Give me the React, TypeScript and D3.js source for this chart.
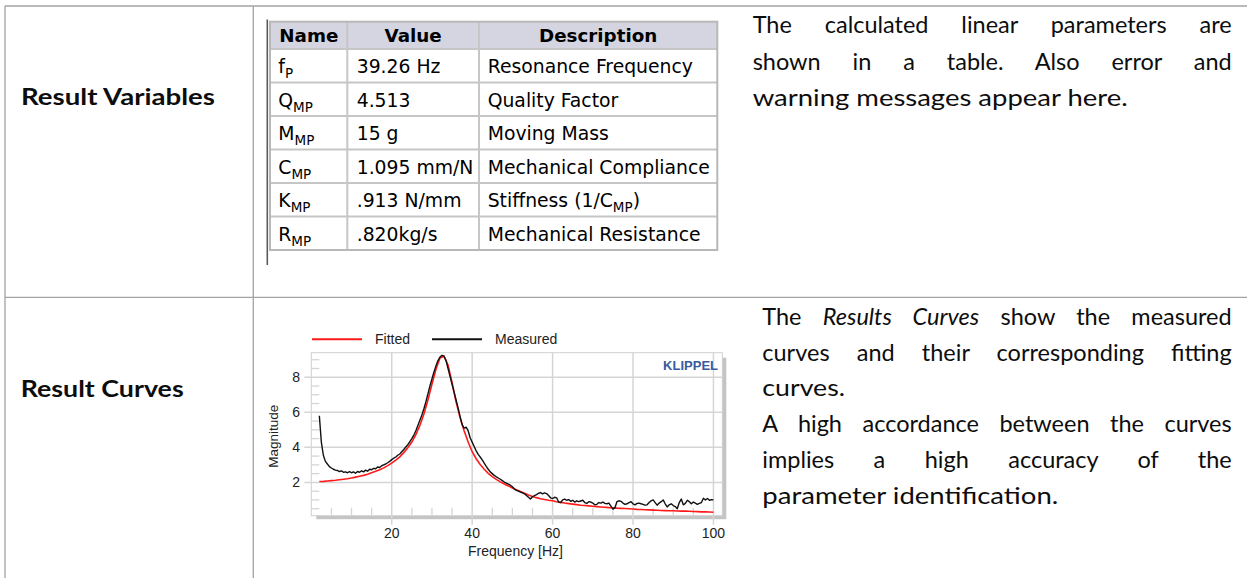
import * as d3 from "d3";
import { useEffect, useRef } from "react";

const W = 1247;
const H = 578;

// parameter table
const tableHeaders = ["Name", "Value", "Description"];
const paramNames = ["f_P", "Q_MP", "M_MP", "C_MP", "K_MP", "R_MP"];
const paramValues = ["39.26 Hz", "4.513", "15 g", "1.095 mm/N", ".913 N/mm", ".820kg/s"];
const paramDescriptions = [
  "Resonance Frequency",
  "Quality Factor",
  "Moving Mass",
  "Mechanical Compliance",
  "Stiffness (1/C_MP)",
  "Mechanical Resistance",
];

// paragraph lines, *...* = italic
const variablesText = [
  "The calculated linear parameters are",
  "shown in a table. Also error and",
  "warning messages appear here.",
];
const variablesJustify = [true, true, false];
const curvesText = [
  "The *Results Curves* show the measured",
  "curves and their corresponding fitting",
  "curves.",
  "A high accordance between the curves",
  "implies a high accuracy of the",
  "parameter identification.",
];
const curvesJustify = [true, true, false, true, true, false];

// chart data: measured sampled every 0.5 Hz from 2 Hz, fitted every 1 Hz from 2 Hz
const measuredStart = 2;
const measuredStep = 0.5;
const measuredMag = [
  5.8, 4.3, 3.55, 3.2, 3.05, 2.9, 2.82, 2.75, 2.7, 2.68,
  2.62, 2.66, 2.58, 2.6, 2.55, 2.62, 2.55, 2.6, 2.52, 2.62,
  2.58, 2.66, 2.6, 2.7, 2.64, 2.75, 2.72, 2.8, 2.78, 2.88,
  2.85, 2.95, 3.0, 3.05, 3.12, 3.2, 3.3, 3.38, 3.45, 3.55,
  3.62, 3.75, 3.88, 4.02, 4.15, 4.32, 4.5, 4.7, 4.95, 5.25,
  5.55, 5.85, 6.2, 6.6, 7.05, 7.5, 7.9, 8.3, 8.65, 8.95,
  9.15, 9.25, 9.2, 8.95, 8.5, 8.05, 7.6, 7.15, 6.7, 6.25,
  5.75, 5.3, 5.1, 5.15, 4.95, 4.55, 4.3, 4.05, 3.8, 3.6,
  3.45, 3.28, 3.1, 2.92, 2.75, 2.6, 2.5, 2.4, 2.32, 2.25,
  2.18, 2.1, 2.02, 1.96, 1.9, 1.84, 1.75, 1.62, 1.55, 1.5,
  1.45, 1.4, 1.35, 1.25, 1.15, 1.05, 1.18, 1.25, 1.3, 1.38,
  1.42, 1.35, 1.4, 1.36, 1.25, 1.12, 1.08, 1.15, 1.12, 0.88,
  0.85, 1.0, 1.05, 0.98, 1.02, 0.92, 0.98, 0.88, 0.95, 0.9,
  0.94, 0.98, 0.85, 0.8, 0.9, 0.88, 0.82, 0.72, 0.75, 0.85,
  0.82, 0.88, 0.8, 0.78, 0.82, 0.65, 0.48, 0.55, 0.9, 0.95,
  0.92, 0.82, 0.75, 0.78, 0.85, 0.9, 0.78, 0.72, 0.8, 0.82,
  0.78, 0.75, 0.7, 0.72, 0.85, 0.95, 1.0, 0.85, 0.7, 0.82,
  0.9, 1.0, 0.78, 0.6, 0.72, 0.78, 0.68, 0.62, 0.5, 0.85,
  1.05, 0.72, 0.8, 0.98, 0.9, 0.78, 0.88, 0.82, 0.75, 0.8,
  0.85, 1.1, 1.0, 1.08, 0.98, 1.02, 1.0,
];
const fittedStart = 2;
const fittedStep = 1;
const fittedMag = [
  2.05, 2.06, 2.08, 2.1, 2.12, 2.15, 2.18, 2.21, 2.25, 2.3,
  2.35, 2.4, 2.47, 2.55, 2.63, 2.72, 2.83, 2.96, 3.1, 3.27,
  3.46, 3.7, 3.98, 4.3, 4.72, 5.25, 5.9, 6.7, 7.6, 8.45,
  9.1, 9.2, 8.7, 7.7, 6.6, 5.7, 4.95, 4.3, 3.75, 3.35,
  3.02, 2.75, 2.52, 2.33, 2.17, 2.03, 1.91, 1.8, 1.68, 1.58,
  1.48, 1.38, 1.28, 1.2, 1.13, 1.07, 1.02, 0.98, 0.95, 0.9,
  0.86, 0.82, 0.79, 0.76, 0.73, 0.7, 0.68, 0.66, 0.64, 0.62,
  0.6, 0.58, 0.56, 0.55, 0.53, 0.52, 0.51, 0.5, 0.48, 0.46,
  0.45, 0.44, 0.43, 0.42, 0.41, 0.4, 0.39, 0.38, 0.38, 0.37,
  0.36, 0.36, 0.35, 0.34, 0.33, 0.32, 0.32, 0.31, 0.3,
];
const xTicks = [20, 40, 60, 80, 100];
const yTicks = [2, 4, 6, 8];

const DOC_FONT = "Lato, 'Noto Sans', sans-serif";
const TABLE_FONT = "'DejaVu Sans', Verdana, sans-serif";
const CHART_FONT = "'Liberation Sans', Arial, sans-serif";

// "C_MP" -> C with subscript MP
const withSub = (s: string, subSize: number) =>
  s.split(/_([A-Z]+)/).map((p, i) =>
    i % 2 === 1 ? (
      <tspan key={i} fontSize={subSize} dy={5}>
        {p}
      </tspan>
    ) : (
      <tspan key={i} dy={i > 0 ? -5 : 0}>
        {p}
      </tspan>
    )
  );

const withItalic = (s: string) =>
  s.split("*").map((p, i) => (
    <tspan key={i} fontStyle={i % 2 === 1 ? "italic" : "normal"}>
      {p}
    </tspan>
  ));

const ParamTable = () => {
  const left = 270;
  const right = 717.3;
  const cols = [270, 347.3, 479, 717.3];
  const top = 21.7;
  const headerBottom = 49;
  const rowH = 33.5;
  const row = d3.scaleLinear().domain([0, 1]).range([headerBottom, headerBottom + rowH]);
  const bottom = row(paramNames.length);
  const textX = [278.3, 356.7, 487.7];

  return (
    <g fontFamily={TABLE_FONT} fontSize={18.8} fill="#000">
      <line x1={267.3} x2={267.3} y1={19.5} y2={265} stroke="#5a5a5a" strokeWidth={1.6} />
      <rect x={left} y={top} width={right - left} height={headerBottom - top} fill="#d5d5e1" />
      {d3.range(paramNames.length + 1).map((i) => (
        <line key={i} x1={left} x2={right} y1={row(i)} y2={row(i)} stroke="#c6c6c6" strokeWidth={2} />
      ))}
      {cols.slice(1, 3).map((c) => (
        <line key={c} x1={c} x2={c} y1={top} y2={bottom} stroke="#c6c6c6" strokeWidth={2} />
      ))}
      <rect x={left} y={top} width={right - left} height={bottom - top} fill="none" stroke="#b8b8b8" strokeWidth={2} />
      {tableHeaders.map((h, i) => (
        <text
          key={h}
          x={i === 0 ? textX[0] + 1 : (cols[i] + cols[i + 1]) / 2}
          y={41.5}
          textAnchor={i === 0 ? "start" : "middle"}
          fontWeight="bold"
          fontSize={18.3}
        >
          {h}
        </text>
      ))}
      {paramNames.map((n, i) => {
        const by = row(i) + 24.3;
        return (
          <g key={n}>
            <text x={textX[0]} y={by}>{withSub(n, 13.5)}</text>
            <text x={textX[1]} y={by}>{paramValues[i]}</text>
            <text x={textX[2]} y={by}>{withSub(paramDescriptions[i], 13.5)}</text>
          </g>
        );
      })}
    </g>
  );
};

const ResultChart = () => {
  const ref = useRef<SVGGElement>(null);

  useEffect(() => {
    if (!ref.current) return;
    const g = d3.select(ref.current);
    g.selectAll("*").remove();

    const left = 311.3;
    const right = 722.3;
    const top = 352.7;
    const bottom = 515.7;
    const x = d3.scaleLinear().domain([0, 102.2]).range([left, right]);
    const y = d3.scaleLinear().domain([0.1, 9.4]).range([bottom, top]);
    const grid = "#d5d5d5";

    // drop shadow + plot area
    g.append("rect")
      .attr("x", left + 5)
      .attr("y", top + 5)
      .attr("width", right - left - 1)
      .attr("height", bottom - top - 1.5)
      .attr("fill", "#c4c4c4");
    g.append("rect")
      .attr("x", left)
      .attr("y", top)
      .attr("width", right - left)
      .attr("height", bottom - top)
      .attr("fill", "#fff")
      .attr("stroke", "#d0d0d0")
      .attr("stroke-width", 1);

    // minor ticks
    const xMinor = d3.range(5, 101, 5).filter((v) => !xTicks.includes(v));
    g.selectAll(".xminor")
      .data(xMinor)
      .enter()
      .append("line")
      .attr("x1", (d) => x(d))
      .attr("x2", (d) => x(d))
      .attr("y1", bottom - 8)
      .attr("y2", bottom)
      .attr("stroke", grid)
      .attr("stroke-width", 1.3);
    const yMinor = d3.range(0.5, 9.01, 0.5).filter((v) => !yTicks.includes(v));
    g.selectAll(".yminor")
      .data(yMinor)
      .enter()
      .append("line")
      .attr("x1", left)
      .attr("x2", left + 8)
      .attr("y1", (d) => y(d))
      .attr("y2", (d) => y(d))
      .attr("stroke", grid)
      .attr("stroke-width", 1.3);

    // major grid
    g.selectAll(".xgrid")
      .data(xTicks)
      .enter()
      .append("line")
      .attr("x1", (d) => x(d))
      .attr("x2", (d) => x(d))
      .attr("y1", top)
      .attr("y2", bottom + 9)
      .attr("stroke", grid)
      .attr("stroke-width", 1.5);
    g.selectAll(".ygrid")
      .data(yTicks)
      .enter()
      .append("line")
      .attr("x1", left - 7)
      .attr("x2", right)
      .attr("y1", (d) => y(d))
      .attr("y2", (d) => y(d))
      .attr("stroke", grid)
      .attr("stroke-width", 1.5);

    // curves
    const fitLine = d3
      .line<number>()
      .x((_, i) => x(fittedStart + i * fittedStep))
      .y((d) => y(d));
    const measLine = d3
      .line<number>()
      .x((_, i) => x(measuredStart + i * measuredStep))
      .y((d) => y(d));
    g.append("path")
      .attr("d", fitLine(fittedMag))
      .attr("fill", "none")
      .attr("stroke", "#ff1a1a")
      .attr("stroke-width", 1.6);
    g.append("path")
      .attr("d", measLine(measuredMag))
      .attr("fill", "none")
      .attr("stroke", "#111")
      .attr("stroke-width", 1.4)
      .attr("stroke-linejoin", "round");

    // tick labels
    const lbl = g.append("g").attr("font-family", CHART_FONT).attr("font-size", 14).attr("fill", "#222");
    lbl.selectAll(".xl")
      .data(xTicks)
      .enter()
      .append("text")
      .attr("x", (d) => x(d))
      .attr("y", 538)
      .attr("text-anchor", "middle")
      .text((d) => d);
    lbl.selectAll(".yl")
      .data(yTicks)
      .enter()
      .append("text")
      .attr("x", 300)
      .attr("y", (d) => y(d))
      .attr("dy", "0.36em")
      .attr("text-anchor", "end")
      .text((d) => d);
    lbl.append("text")
      .attr("x", 515.5)
      .attr("y", 556)
      .attr("text-anchor", "middle")
      .text("Frequency [Hz]");
    lbl.append("text")
      .attr("transform", "translate(278,436.3) rotate(-90)")
      .attr("text-anchor", "middle")
      .attr("font-size", 13.5)
      .text("Magnitude");

    // legend
    const legend = [
      { label: "Fitted", color: "#ff1a1a", x0: 312 },
      { label: "Measured", color: "#111", x0: 432 },
    ];
    const lg = g.selectAll(".lg").data(legend).enter().append("g");
    lg.append("line")
      .attr("x1", (d) => d.x0)
      .attr("x2", (d) => d.x0 + 50)
      .attr("y1", 339.3)
      .attr("y2", 339.3)
      .attr("stroke", (d) => d.color)
      .attr("stroke-width", 2);
    lg.append("text")
      .attr("x", (d) => d.x0 + 63)
      .attr("y", 344)
      .attr("font-family", CHART_FONT)
      .attr("font-size", 14)
      .attr("fill", "#222")
      .text((d) => d.label);

    g.append("text")
      .attr("x", 718)
      .attr("y", 369.5)
      .attr("text-anchor", "end")
      .attr("font-family", CHART_FONT)
      .attr("font-weight", "bold")
      .attr("font-size", 13)
      .attr("fill", "#3b5a9d")
      .text("KLIPPEL");
  }, []);

  return <g ref={ref} />;
};

const Paragraph = ({
  lines,
  justify,
  x,
  y0,
  lineH,
  width,
  widths,
}: {
  lines: string[];
  justify: boolean[];
  x: number;
  y0: number;
  lineH: number;
  width: number;
  widths: Record<number, number>;
}) => (
  <g>
    {lines.map((l, i) => (
      <text
        key={i}
        className={justify[i] ? "justify" : "plain"}
        data-w={justify[i] ? width : widths[i]}
        x={x}
        y={y0 + i * lineH}
      >
        {withItalic(l)}
      </text>
    ))}
  </g>
);

export default function App() {
  const ref = useRef<SVGSVGElement>(null);

  useEffect(() => {
    if (!ref.current) return;
    const svg = d3.select(ref.current);
    svg.selectAll<SVGTextElement, unknown>("text.justify").each(function () {
      const target = +(this.getAttribute("data-w") || 0);
      const natural = this.getComputedTextLength();
      const spaces = ((this.textContent || "").match(/ /g) || []).length;
      if (spaces) d3.select(this).style("word-spacing", `${(target - natural) / spaces}px`);
    });
    svg.selectAll<SVGTextElement, unknown>("text.plain, text.fit").each(function () {
      const target = +(this.getAttribute("data-w") || 0);
      if (target) {
        d3.select(this).attr("textLength", target).attr("lengthAdjust", "spacingAndGlyphs");
      }
    });
  }, []);

  const border = "#a3a3a3";

  return (
    <svg
      ref={ref}
      width={W}
      height={H}
      style={{ position: "absolute", left: 0, top: 0, background: "#fff" }}
    >
      {/* outer document table */}
      <line x1={5} x2={W} y1={6} y2={6} stroke={border} strokeWidth={1.3} />
      <line x1={5} x2={W} y1={297.3} y2={297.3} stroke={border} strokeWidth={1.3} />
      <line x1={5} x2={5} y1={6} y2={H} stroke={border} strokeWidth={1.3} />
      <line x1={253.3} x2={253.3} y1={6} y2={H} stroke={border} strokeWidth={1.3} />

      <g fontFamily={DOC_FONT} fill="#0d0d0d">
        <text className="fit" data-w={194} x={21} y={105} fontSize={22.5} fontWeight="bold">
          Result Variables
        </text>
        <text className="fit" data-w={163} x={20.7} y={396.7} fontSize={22.5} fontWeight="bold">
          Result Curves
        </text>
        <g fontSize={23.5}>
          <Paragraph
            lines={variablesText}
            justify={variablesJustify}
            x={752.7}
            y0={33.3}
            lineH={36.5}
            width={479}
            widths={{ 2: 375 }}
          />
          <Paragraph
            lines={curvesText}
            justify={curvesJustify}
            x={762.3}
            y0={325}
            lineH={35.7}
            width={469.4}
            widths={{ 2: 82.7, 5: 296 }}
          />
        </g>
      </g>

      <ParamTable />
      <ResultChart />
    </svg>
  );
}
